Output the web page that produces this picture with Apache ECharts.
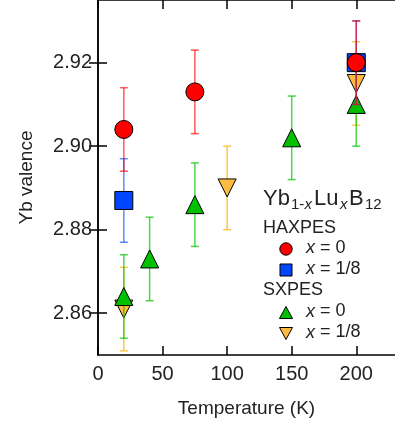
<!DOCTYPE html>
<html>
<head>
<meta charset="utf-8">
<script src="https://cdn.jsdelivr.net/npm/echarts@6/dist/echarts.min.js"></script>
<style>html,body{margin:0;padding:0;background:#fff}#c{width:395px;height:429px}</style>
</head>
<body>
<div id="c"></div>
<script>
// Data
var haxTemps0 = [20, 75, 200];
var haxVals0  = [2.904, 2.913, 2.920];
var haxErr0   = [0.010, 0.010, 0.010];

var haxTemps18 = [20, 200];
var haxVals18  = [2.887, 2.920];
var haxErr18   = [0.010, 0.010];

var sxTemps0 = [20, 40, 75, 150, 200];
var sxVals0  = [2.864, 2.873, 2.886, 2.902, 2.910];
var sxErr0   = [0.010, 0.010, 0.010, 0.010, 0.010];

var sxTemps18 = [20, 100, 200];
var sxVals18  = [2.861, 2.890, 2.915];
var sxErr18   = [0.010, 0.010, 0.010];

var xTicks = [0, 50, 100, 150, 200];
var yTicks = [2.86, 2.88, 2.90, 2.92];

var FONT = '"Liberation Sans", Arial, Helvetica, sans-serif';
var TXT = '#222';

function pts(t, v) { return t.map(function (x, i) { return [x, v[i]]; }); }
function errs(t, v, e) { return t.map(function (x, i) { return [x, v[i] - e[i], v[i] + e[i]]; }); }

function errSeries(data, color, z) {
  return {
    type: 'custom',
    z: z,
    data: data,
    encode: { x: 0, y: [1, 2] },
    renderItem: function (params, api) {
      var lo = api.coord([api.value(0), api.value(1)]);
      var hi = api.coord([api.value(0), api.value(2)]);
      var w = 4;
      var st = { stroke: color, lineWidth: 1.5, fill: null };
      return {
        type: 'group',
        children: [
          { type: 'line', shape: { x1: lo[0], y1: lo[1], x2: hi[0], y2: hi[1] }, style: st },
          { type: 'line', shape: { x1: lo[0] - w, y1: lo[1], x2: lo[0] + w, y2: lo[1] }, style: st },
          { type: 'line', shape: { x1: hi[0] - w, y1: hi[1], x2: hi[0] + w, y2: hi[1] }, style: st }
        ]
      };
    }
  };
}

function markSeries(data, symbol, color, z, rot) {
  return {
    type: 'scatter',
    z: z,
    data: data,
    symbol: symbol,
    symbolSize: 18,
    symbolRotate: rot || 0,
    itemStyle: { color: color, borderColor: '#000', borderWidth: 1, opacity: 1 },
    emphasis: { disabled: true }
  };
}

var axisLineSt = { show: true, lineStyle: { color: '#000', width: 1.5 } };
var tickSt = { show: true, inside: true, length: 9, lineStyle: { color: '#000', width: 1.5 } };

var chart = echarts.init(document.getElementById('c'), null, { renderer: 'canvas' });

var ORANGE = '#ffbb40', GREEN = '#00c000', BLUE = '#0046ff', RED = '#ff0000';

var graphics = [
  { type: 'text', left: 263, top: 188, style: { text: 'Yb', font: '22px ' + FONT, fill: TXT } },
  { type: 'text', left: 291, top: 197, style: { text: '1-', font: '15px ' + FONT, fill: TXT } },
  { type: 'text', left: 304.5, top: 197, style: { text: 'x', font: 'italic 15px ' + FONT, fill: TXT } },
  { type: 'text', left: 314, top: 188, style: { text: 'Lu', font: '22px ' + FONT, fill: TXT } },
  { type: 'text', left: 340, top: 197, style: { text: 'x', font: 'italic 15px ' + FONT, fill: TXT } },
  { type: 'text', left: 349, top: 188, style: { text: 'B', font: '22px ' + FONT, fill: TXT } },
  { type: 'text', left: 365, top: 197, style: { text: '12', font: '15px ' + FONT, fill: TXT } },

  { type: 'text', left: 263, top: 219, style: { text: 'HAXPES', font: '18px ' + FONT, fill: TXT } },
  { type: 'circle', shape: { cx: 286, cy: 249, r: 6.2 }, style: { fill: RED, stroke: '#000', lineWidth: 1 } },
  { type: 'rect', shape: { x: 280, y: 264, width: 12, height: 12 }, style: { fill: BLUE, stroke: '#000', lineWidth: 1 } },
  { type: 'text', left: 263, top: 281, style: { text: 'SXPES', font: '18px ' + FONT, fill: TXT } },
  { type: 'polygon', shape: { points: [[286, 306.5], [292.5, 318.5], [279.5, 318.5]] }, style: { fill: GREEN, stroke: '#000', lineWidth: 1 } },
  { type: 'polygon', shape: { points: [[279.5, 327.5], [292.5, 327.5], [286, 339.5]] }, style: { fill: ORANGE, stroke: '#000', lineWidth: 1 } }
];
var rows = [[249, '0'], [270, '1/8'], [312.5, '0'], [333.5, '1/8']];
rows.forEach(function (r) {
  graphics.push({
    type: 'text', left: 306, top: r[0] - 10,
    style: {
      text: '{i|x} = ' + r[1],
      font: '18px ' + FONT, fill: TXT,
      rich: { i: { fontStyle: 'italic', fontSize: 18, fontFamily: FONT, fill: TXT } }
    }
  });
});

chart.setOption({
  animation: false,
  backgroundColor: '#fff',
  textStyle: { fontFamily: FONT },
  grid: { left: 98, top: 0, width: 301, height: 355, containLabel: false },
  xAxis: [
    {
      type: 'value', min: 0, max: 230, position: 'bottom',
      axisLine: axisLineSt,
      axisTick: Object.assign({ customValues: xTicks }, tickSt),
      axisLabel: { customValues: xTicks, fontSize: 20, color: TXT, margin: 9, fontFamily: FONT },
      splitLine: { show: false },
      name: 'Temperature (K)', nameLocation: 'middle', nameGap: 44,
      nameTextStyle: { fontSize: 19, color: TXT, fontFamily: FONT }
    },
    {
      type: 'value', min: 0, max: 230, position: 'top',
      axisLine: axisLineSt,
      axisTick: Object.assign({ customValues: xTicks }, tickSt),
      axisLabel: { show: false },
      splitLine: { show: false }
    }
  ],
  yAxis: [
    {
      type: 'value', min: 2.85, max: 2.935, position: 'left',
      axisLine: axisLineSt,
      axisTick: Object.assign({ customValues: yTicks }, tickSt),
      axisLabel: {
        customValues: yTicks, fontSize: 20, color: TXT, margin: 6, fontFamily: FONT,
        formatter: function (v) { return v.toFixed(2); }
      },
      splitLine: { show: false },
      name: 'Yb valence', nameLocation: 'middle', nameGap: 62, nameRotate: 90,
      nameTextStyle: { fontSize: 19, color: TXT, fontFamily: FONT }
    },
    {
      type: 'value', min: 2.85, max: 2.935, position: 'right',
      axisLine: axisLineSt,
      axisTick: Object.assign({ customValues: yTicks }, tickSt),
      axisLabel: { show: false },
      splitLine: { show: false }
    }
  ],
  series: [
    errSeries(errs(sxTemps18, sxVals18, sxErr18), 'rgba(255,190,40,0.85)', 2),
    markSeries(pts(sxTemps18, sxVals18), 'triangle', ORANGE, 3, 180),
    errSeries(errs(sxTemps0, sxVals0, sxErr0), 'rgba(20,200,20,0.75)', 4),
    markSeries(pts(sxTemps0, sxVals0), 'triangle', GREEN, 5),
    errSeries(errs(haxTemps18, haxVals18, haxErr18), 'rgba(40,100,255,0.75)', 6),
    markSeries(pts(haxTemps18, haxVals18), 'rect', BLUE, 7),
    errSeries(errs(haxTemps0, haxVals0, haxErr0), 'rgba(255,0,0,0.65)', 8),
    markSeries(pts(haxTemps0, haxVals0), 'circle', RED, 9)
  ],
  graphic: graphics
});
</script>
</body>
</html>
